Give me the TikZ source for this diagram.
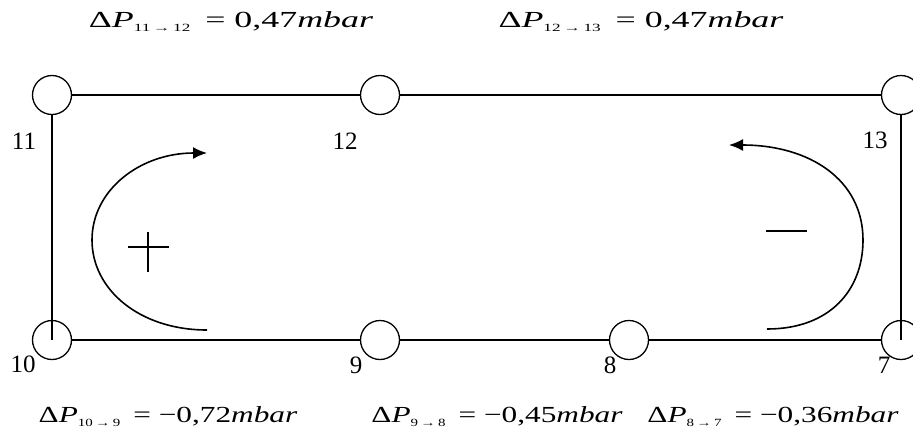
\documentclass[tikz,border=0pt]{standalone}
\usepackage{fontspec}
\setmainfont{Liberation Serif}
\usetikzlibrary{arrows.meta}
\newcommand\dPeq[3][1.56]{\scalebox{#1}[1]{\fontsize{23}{25}\selectfont Δ\textit{P}\raisebox{-0.4ex}{\fontsize{11}{11}\selectfont #2}\, = #3\textit{mbar}}}
\begin{document}
\begin{tikzpicture}[x=1pt,y=-1pt,line width=1.3pt,
  pnode/.style={circle,draw,line width=1.3pt,minimum size=39pt,inner sep=0pt},
  lbl/.style={font=\fontsize{25}{25}\selectfont,inner sep=0pt},
  eq/.style={anchor=base,inner sep=0pt},
  flow/.style={-{Latex[length=14pt,width=12pt]},line width=1.6pt},
  sign/.style={line width=1.5pt}]
\useasboundingbox (0,0) rectangle (913,429);
% pressure nodes
\node[pnode] (n11) at (52,95) {};
\node[pnode] (n12) at (380,95) {};
\node[pnode] (n13) at (901,95) {};
\node[pnode] (n10) at (52,340) {};
\node[pnode] (n9) at (380,340) {};
\node[pnode] (n8) at (629,340) {};
\node[pnode] (n7) at (901,340) {};
% pipes
\draw (n11) -- (n12);
\draw (n12) -- (n13);
\draw (n10) -- (n9);
\draw (n9) -- (n8);
\draw (n8) -- (n7);
\draw (n11) -- (n10.center);
\draw (n13) -- (n7.center);
% node labels
\node[lbl] (l11) at (24,141) {11};
\node[lbl] (l12) at (345,141) {12};
\node[lbl] (l13) at (875,140) {13};
\node[lbl] (l10) at (23,364) {10};
\node[lbl] (l9) at (356,365) {9};
\node[lbl] (l8) at (610,365) {8};
\node[lbl] (l7) at (884,365) {7};
% circulation arrows
\draw[flow] (207,330) .. controls (140,330) and (92,290) .. (92,240)
  .. controls (92,190) and (140,153) .. (207,153);
\draw[flow] (767,329) .. controls (830,329) and (863,290) .. (863,240)
  .. controls (863,180) and (810,145) .. (729,145);
\draw[sign] (128,247) -- (169,247);
\draw[sign] (148,232) -- (148,272);
\draw[sign] (766,231) -- (807,231);
% pressure differences
\node[eq] (e1) at (231,27) {\dPeq{11\,→\,12}{0,47}};
\node[eq] (e2) at (641,27) {\dPeq{12\,→\,13}{0,47}};
\node[eq] (e3) at (168,422) {\dPeq[1.36]{10\,→\,9}{−0,72}};
\node[eq] (e4) at (497,422) {\dPeq[1.36]{9\,→\,8}{−0,45}};
\node[eq] (e5) at (773,422) {\dPeq[1.36]{8\,→\,7}{−0,36}};
\end{tikzpicture}
\end{document}
